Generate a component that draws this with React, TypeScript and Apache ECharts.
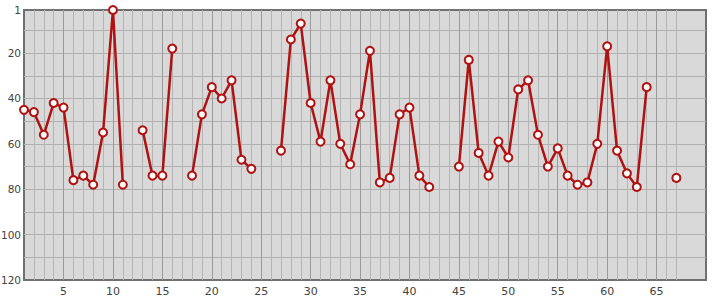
import React, { useEffect, useRef } from "react";
import * as echarts from "echarts";

const positions: number[] = Array.from({ length: 67 }, (_, i) => i + 1);
const ranks: (number | null)[] = [
  45, 46, 56, 42, 44, 76, 74, 78, 55, 1,
  78, null, 54, 74, 74, 18, null, 74, 47, 35,
  40, 32, 67, 71, null, null, 63, 14, 7, 42,
  59, 32, 60, 69, 47, 19, 77, 75, 47, 44,
  74, 79, null, null, 70, 23, 64, 74, 59, 66,
  36, 32, 56, 70, 62, 74, 78, 77, 60, 17,
  63, 73, 79, 35, null, null, 75,
];
const xLabelValues = [5, 10, 15, 20, 25, 30, 35, 40, 45, 50, 55, 60, 65];
const yLabelValues = [1, 20, 40, 60, 80, 100, 120];
const yGridValues = [10, 20, 30, 40, 50, 60, 70, 80, 90, 100, 110];
const xMinorGrid = positions.slice(1);

export default function App() {
  const ref = useRef<HTMLDivElement>(null);
  useEffect(() => {
    if (!ref.current) return;
    const chart = echarts.init(ref.current, null, { renderer: "svg" });
    const labelStyle = {
      color: "#444",
      fontSize: 10.5,
      fontFamily: "DejaVu Sans, sans-serif",
    };
    chart.setOption({
      animation: false,
      grid: {
        left: 24,
        top: 10,
        width: 682,
        height: 270,
        outerBoundsMode: "none",
        containLabel: false,
        show: true,
        backgroundColor: "#d9d9d9",
        borderColor: "#707070",
        borderWidth: 2,
      },
      xAxis: [
        {
          type: "value",
          min: 1,
          max: 70,
          axisLine: { show: false },
          axisTick: { show: false, customValues: xMinorGrid },
          axisLabel: { ...labelStyle, fontSize: 11, customValues: xLabelValues, margin: 6 },
          splitLine: { show: true, lineStyle: { color: "#b4b4b4", width: 1 } },
        },
        {
          type: "value",
          min: 1,
          max: 70,
          position: "bottom",
          axisLine: { show: false },
          axisTick: { show: false, customValues: xLabelValues },
          axisLabel: { show: false },
          splitLine: { show: true, lineStyle: { color: "#9a9a9a", width: 1 } },
        },
      ],
      yAxis: {
        type: "value",
        inverse: true,
        min: 1,
        max: 120,
        axisLine: { show: false },
        axisTick: { show: false, customValues: yGridValues },
        axisLabel: { ...labelStyle, customValues: yLabelValues, margin: 3 },
        splitLine: { show: true, lineStyle: { color: "#b0b0b0", width: 1 } },
      },
      series: [
        {
          type: "line",
          xAxisIndex: 0,
          data: positions.map((p, i) => [p, ranks[i] === null ? "-" : ranks[i]]),
          connectNulls: false,
          showSymbol: true,
          symbol: "circle",
          symbolSize: 8,
          lineStyle: { color: "#b01212", width: 2.5 },
          itemStyle: { color: "#ffffff", borderColor: "#b01212", borderWidth: 2 },
          z: 3,
        },
      ],
    });
    return () => chart.dispose();
  }, []);
  return (
    <div
      ref={ref}
      style={{ position: "absolute", left: 0, top: 0, width: 715, height: 300 }}
    />
  );
}
